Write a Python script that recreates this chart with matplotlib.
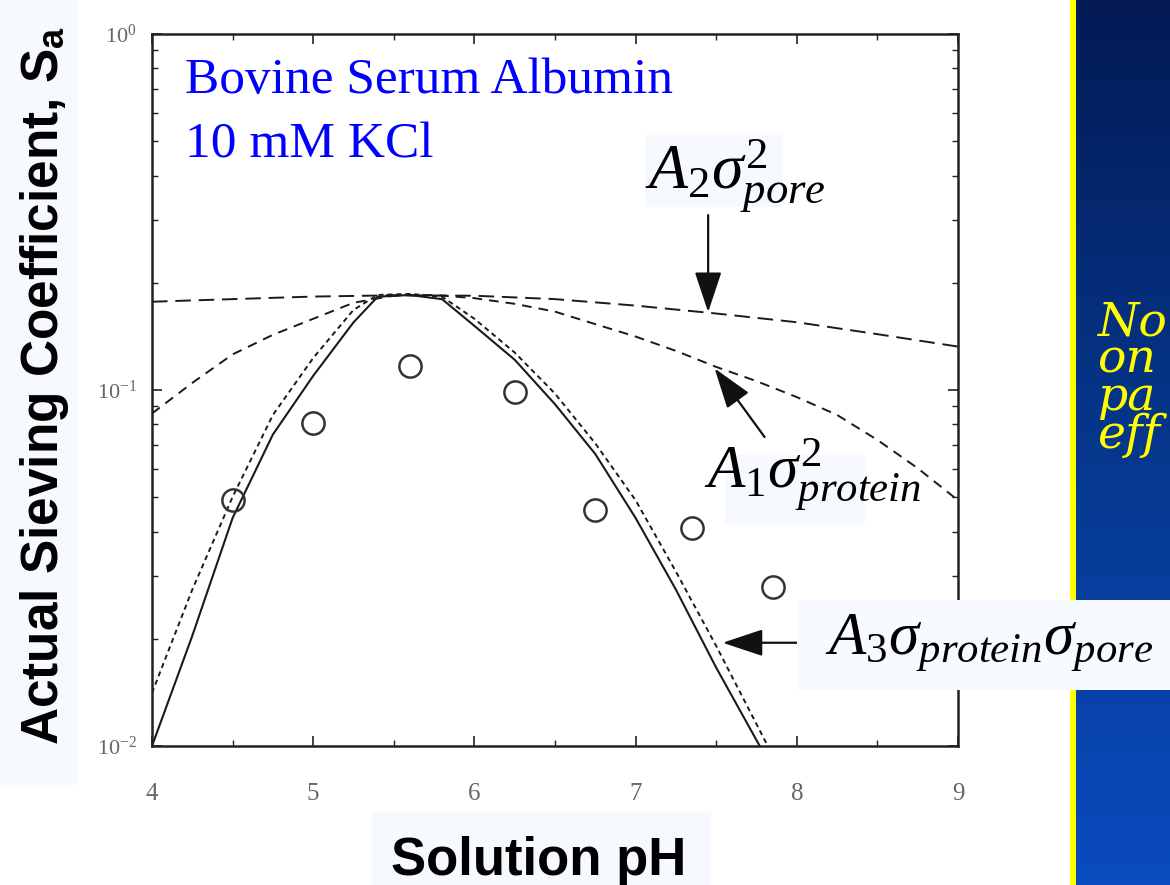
import numpy as np
import matplotlib
matplotlib.use("Agg")
import matplotlib.pyplot as plt
from matplotlib.patches import Rectangle
from matplotlib.ticker import MultipleLocator, NullFormatter
from matplotlib.colors import LinearSegmentedColormap

plt.rcParams['mathtext.fontset'] = 'custom'
plt.rcParams['mathtext.rm'] = 'Liberation Serif'
plt.rcParams['mathtext.it'] = 'Liberation Serif:italic'
plt.rcParams['mathtext.bf'] = 'Liberation Serif:bold'
plt.rcParams['mathtext.sf'] = 'Liberation Sans:bold'

# measured sieving coefficients (open circles)
ph_data = [4.5, 5.0, 5.6, 6.25, 6.75, 7.35, 7.85]
s_data = [0.049, 0.081, 0.117, 0.099, 0.046, 0.041, 0.028]

# A2 sigma_pore^2 term (long dashes)
ph_pore = [4.0, 4.5, 5.0, 5.5, 6.0, 6.5, 7.0, 7.5, 8.0, 8.5, 9.0]
s_pore = [0.177, 0.180, 0.183, 0.1845, 0.184, 0.180, 0.1726, 0.164, 0.155, 0.1435, 0.1324]

# A1 sigma_protein^2 term (short dashes)
ph_prot = [4.0, 4.25, 4.5, 4.75, 5.0, 5.25, 5.5, 5.75, 6.0, 6.25, 6.5,
           6.75, 7.0, 7.25, 7.5, 7.75, 8.0, 8.25, 8.5, 8.75, 9.0]
s_prot = [0.0859, 0.1047, 0.1259, 0.1429, 0.1585, 0.1758, 0.1841, 0.1849, 0.1811, 0.1746, 0.166,
          0.1531, 0.1413, 0.1288, 0.1161, 0.1059, 0.0955, 0.0851, 0.0724, 0.0603, 0.049]

# A3 sigma_protein*sigma_pore term, solid and dotted
ph_cross = [4.0, 4.25, 4.5, 4.75, 5.0, 5.25, 5.4, 5.6, 5.8, 6.0, 6.25, 6.5, 6.75, 7.0, 7.25, 7.5, 7.77]
s_cross = [0.0100, 0.0204, 0.0437, 0.0750, 0.1096, 0.1549, 0.1828, 0.1849, 0.1799, 0.1514, 0.1216,
           0.0912, 0.0661, 0.0437, 0.0275, 0.0166, 0.0100]
ph_cross2 = [4.0, 4.25, 4.5, 4.75, 5.0, 5.25, 5.4, 5.6, 5.8, 6.0, 6.25, 6.5, 6.75, 7.0, 7.25, 7.5, 7.82]
s_cross2 = [0.0141, 0.0275, 0.0501, 0.0851, 0.1230, 0.1679, 0.1849, 0.1862, 0.1828, 0.1585, 0.1274,
            0.0977, 0.0708, 0.0490, 0.0309, 0.0191, 0.0100]

# visible part of the side-panel note (cut by the slide edge)
note_lines = ['No', 'on', 'pa', 'eff']

W, H = 1170, 885


def fx(x):
    return x / W


def fy(y):
    return 1 - y / H


def box(x0, y0, x1, y1, color, z):
    fig.add_artist(Rectangle((fx(x0), fy(y1)), fx(x1) - fx(x0), fy(y0) - fy(y1),
                             transform=fig.transFigure, facecolor=color,
                             edgecolor='none', zorder=z))


fig = plt.figure(figsize=(11.7, 8.85), dpi=100)

# blue side panel
pax = fig.add_axes([fx(1076), 0, fx(1170) - fx(1076), 1], zorder=1)
cmap = LinearSegmentedColormap.from_list('panel', ['#031a55', '#06378c', '#0a4bbf'])
pax.imshow(np.linspace(0, 1, 256).reshape(-1, 1), aspect='auto', cmap=cmap,
           extent=[0, 1, 0, 1], origin='upper')
pax.set_xlim(0, 1)
pax.set_ylim(0, 1)
pax.axis('off')
pax.text((1098 - 1076) / 94, 1 - 300 / H, '\n'.join(note_lines), color='#ffff00', fontsize=34,
         family='DejaVu Serif', style='italic', va='top', linespacing=0.78)

box(1070, 0, 1076, 885, '#ffff00', 2)
box(0, 0, 78, 785, '#f6faff', -1)
box(372, 812, 711, 885, '#f6faff', -1)

ax = fig.add_axes([fx(152), fy(746), fx(958) - fx(152), fy(34) - fy(746)], zorder=0)
ax.set_facecolor('none')

ax.plot(ph_pore, s_pore, color='#1a1a1a', lw=1.4, dashes=(8, 4))
ax.plot(ph_prot, s_prot, color='#1a1a1a', lw=1.4, dashes=(5, 3.6))
ax.plot(ph_cross, s_cross, color='#1a1a1a', lw=1.5)
ax.plot(ph_cross2, s_cross2, color='#1a1a1a', lw=1.4, dashes=(2.6, 2))
ax.plot(ph_data, s_data, 'o', mfc='none', mec='#333333', ms=16, mew=1.8)

ax.set_yscale('log')
ax.set_xlim(4, 9)
ax.set_ylim(0.01, 1)
ax.xaxis.set_major_locator(MultipleLocator(1))
ax.xaxis.set_minor_locator(MultipleLocator(0.5))
ax.yaxis.set_minor_formatter(NullFormatter())
ax.tick_params(which='both', direction='in', top=True, right=True, colors='#222222',
               labelcolor='#666666', labelfontfamily='Liberation Serif')
ax.tick_params(which='major', length=7, width=1.2)
ax.tick_params(which='minor', length=4, width=1.0)
ax.tick_params(axis='x', labelsize=18, pad=27)
ax.tick_params(axis='y', labelsize=16, pad=11)
for sp in ax.spines.values():
    sp.set_linewidth(1.8)
    sp.set_color('#222222')

# arrows pointing to the curves
arrow = dict(arrowstyle='-|>,head_length=0.9,head_width=0.3', color='#111111', lw=1.6,
             shrinkA=0, shrinkB=0, mutation_scale=28)
ax.annotate('', xy=(7.45, 0.1655), xytext=(7.45, 0.31), arrowprops=arrow)
ax.annotate('', xy=(7.49, 0.115), xytext=(7.80, 0.0738), arrowprops=arrow)
ax.annotate('', xy=(7.54, 0.0195), xytext=(8.02, 0.0195), arrowprops=arrow, annotation_clip=False)

fig.text(fx(185), fy(93), 'Bovine Serum Albumin', color='#0000ff', fontsize=37,
         family='Liberation Serif', va='baseline')
fig.text(fx(185), fy(158), '10 mM KCl', color='#0000ff', fontsize=37,
         family='Liberation Serif', va='baseline')

box(645, 135, 783, 207, '#f6f9fd', 0.5)
box(725, 455, 865, 525, '#f6f9fd', 0.5)
box(797, 600, 1170, 690, '#f7faff', 3)
fig.text(fx(645), fy(188), r'$A_2\sigma^2_{pore}$', fontsize=46, va='baseline', zorder=4)
fig.text(fx(704), fy(488), r'$A_1\sigma^2_{protein}$', fontsize=44, va='baseline', zorder=4)
fig.text(fx(825), fy(655), r'$A_3\sigma_{protein}\sigma_{pore}$', fontsize=44, va='baseline', zorder=4)

fig.text(fx(45), fy(385), r'Actual Sieving Coefficient, S$_{\mathsf{a}}$', rotation=90,
         ha='center', va='center', fontsize=37, fontweight='bold', family='Liberation Sans')
fig.text(fx(539), fy(875), 'Solution pH', ha='center', va='baseline', fontsize=38,
         fontweight='bold', family='Liberation Sans')

fig.savefig('out.png', dpi=100)
